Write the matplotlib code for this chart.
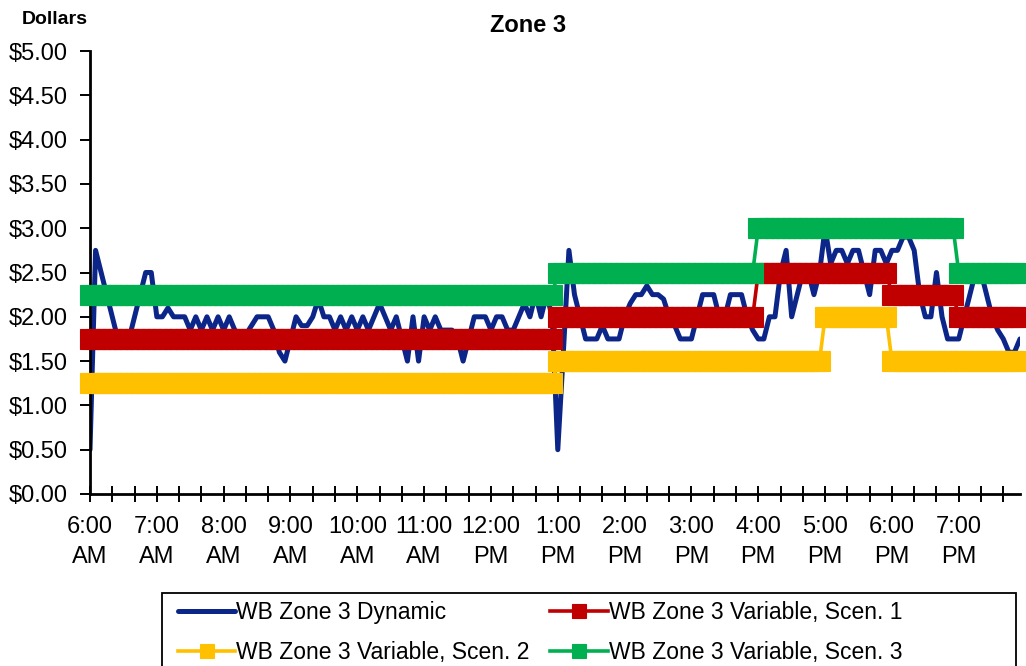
#%% 1 imports and settings
import matplotlib
matplotlib.use("Agg")
import matplotlib.pyplot as plt
from matplotlib.ticker import FixedLocator, FuncFormatter
from matplotlib.patches import Rectangle
import numpy as np

plt.rcParams['font.family'] = ['Liberation Sans', 'DejaVu Sans']

# hour labels on the category axis (5-minute intervals, 6:00 AM - 7:55 PM)
hour_labels = ["6:00\nAM", "7:00\nAM", "8:00\nAM", "9:00\nAM", "10:00\nAM",
               "11:00\nAM", "12:00\nPM", "1:00\nPM", "2:00\nPM", "3:00\nPM",
               "4:00\nPM", "5:00\nPM", "6:00\nPM", "7:00\nPM"]

# dynamic price, one row per hour (12 five-minute values)
dyn_06 = [0.50, 2.75, 2.50, 2.25, 2.00, 1.75, 1.75, 1.75, 2.00, 2.25, 2.50, 2.50]
dyn_07 = [2.00, 2.00, 2.10, 2.00, 2.00, 2.00, 1.85, 2.00, 1.85, 2.00, 1.85, 2.00]
dyn_08 = [1.85, 2.00, 1.85, 1.80, 1.80, 1.90, 2.00, 2.00, 2.00, 1.85, 1.60, 1.50]
dyn_09 = [1.75, 2.00, 1.90, 1.90, 2.00, 2.20, 2.00, 2.00, 1.85, 2.00, 1.85, 2.00]
dyn_10 = [1.85, 2.00, 1.85, 2.00, 2.15, 2.00, 1.85, 2.00, 1.75, 1.50, 2.00, 1.50]
dyn_11 = [2.00, 1.85, 2.00, 1.85, 1.85, 1.85, 1.75, 1.50, 1.75, 2.00, 2.00, 2.00]
dyn_12 = [1.85, 2.00, 2.00, 1.85, 1.85, 2.00, 2.15, 2.00, 2.25, 2.00, 2.25, 2.00]
dyn_13 = [0.50, 1.60, 2.75, 2.25, 2.00, 1.75, 1.75, 1.75, 1.90, 1.75, 1.75, 1.75]
dyn_14 = [2.00, 2.15, 2.25, 2.25, 2.35, 2.25, 2.25, 2.20, 2.00, 1.90, 1.75, 1.75]
dyn_15 = [1.75, 2.00, 2.25, 2.25, 2.25, 2.00, 2.00, 2.25, 2.25, 2.25, 2.00, 1.85]
dyn_16 = [1.75, 1.75, 2.00, 2.00, 2.50, 2.75, 2.00, 2.25, 2.50, 2.50, 2.25, 2.50]
dyn_17 = [3.00, 2.60, 2.75, 2.75, 2.60, 2.75, 2.75, 2.50, 2.25, 2.75, 2.75, 2.60]
dyn_18 = [2.75, 2.75, 2.90, 2.90, 2.75, 2.25, 2.00, 2.00, 2.50, 2.00, 1.75, 1.75]
dyn_19 = [1.75, 2.00, 2.25, 2.50, 2.50, 2.25, 2.00, 1.85, 1.75, 1.60, 1.60, 1.75]

dynamic = np.array(dyn_06 + dyn_07 + dyn_08 + dyn_09 + dyn_10 + dyn_11 + dyn_12 +
                   dyn_13 + dyn_14 + dyn_15 + dyn_16 + dyn_17 + dyn_18 + dyn_19)

# variable prices, one value per hour (6 AM ... 7 PM)
scen1_hourly = [1.75, 1.75, 1.75, 1.75, 1.75, 1.75, 1.75,
                2.00, 2.00, 2.00, 2.50, 2.50, 2.25, 2.00]
scen2_hourly = [1.25, 1.25, 1.25, 1.25, 1.25, 1.25, 1.25,
                1.50, 1.50, 1.50, 1.50, 2.00, 1.50, 1.50]
scen3_hourly = [2.25, 2.25, 2.25, 2.25, 2.25, 2.25, 2.25,
                2.50, 2.50, 2.50, 3.00, 3.00, 3.00, 2.50]

series_names = ["WB Zone 3 Dynamic", "WB Zone 3 Variable, Scen. 1",
                "WB Zone 3 Variable, Scen. 2", "WB Zone 3 Variable, Scen. 3"]

# each hourly price holds for all twelve 5-minute intervals of that hour
per_hour = 12
scen1 = np.repeat(scen1_hourly, per_hour)
scen2 = np.repeat(scen2_hourly, per_hour)
scen3 = np.repeat(scen3_hourly, per_hour)
x = np.arange(len(dynamic))

# colours
blueColor   = '#0c2588'
redColor    = '#c00000'
yellowColor = '#ffc000'
greenColor  = '#00b050'

#%% 2 figure and lines
fig = plt.figure(figsize=(10.26, 6.66), dpi=100)
ax = fig.add_axes([90/1026, 1 - 494/666, 930/1026, 443/666])

h_dyn, = ax.plot(x, dynamic, color=blueColor, lw=3.6, solid_joinstyle='round',
                 solid_capstyle='round', zorder=2, label=series_names[0])

handles = [h_dyn]
for vals, col, z, name in [(scen1, redColor, 3, series_names[1]),
                           (scen2, yellowColor, 4, series_names[2]),
                           (scen3, greenColor, 5, series_names[3])]:
    h, = ax.plot(x, vals, color=col, lw=2.6, marker='s', markersize=14,
                 markeredgewidth=0.8, markeredgecolor=col, markerfacecolor=col,
                 zorder=z, clip_on=False, label=name)
    handles.append(h)

#%% 3 axes styling
ax.set_xlim(0, len(dynamic) - 1)
ax.set_ylim(0, 5)

ax.xaxis.set_major_locator(FixedLocator(np.arange(0, len(dynamic), per_hour)))
ax.xaxis.set_minor_locator(FixedLocator(np.arange(0, len(dynamic), 4)))
ax.set_xticklabels(hour_labels, fontsize=17, linespacing=1.5)
ax.set_yticks(np.arange(0, 5.01, 0.5))
ax.yaxis.set_major_formatter(FuncFormatter(lambda v, p: f"${v:.2f}"))
ax.tick_params(axis='y', labelsize=17, direction='out', length=7, width=1.4, pad=9)
ax.tick_params(axis='x', which='both', direction='inout', length=11, width=1.4, pad=10)

ax.spines[['top', 'right']].set_visible(False)
ax.spines[['left', 'bottom']].set_linewidth(2)

fig.text(528/1026, 1 - 25/666, "Zone 3", fontsize=17, fontweight='bold',
         ha='center', va='center')
fig.text(55/1026, 1 - 20/666, "Dollars", fontsize=14, fontweight='bold',
         ha='center', va='center')

#%% 4 legend (frame drawn separately, runs off the bottom edge)
frame = Rectangle((162/1026, 1 - 680/666), (1016 - 162)/1026, 87/666,
                  transform=fig.transFigure, facecolor='white',
                  edgecolor='black', lw=1.3, clip_on=False, zorder=5)
fig.add_artist(frame)

leg_order = [0, 2, 1, 3]
leg = fig.legend([handles[i] for i in leg_order],
                 [series_names[i] for i in leg_order],
                 loc='upper left', bbox_to_anchor=(178/1026, 1 - 601/666),
                 ncol=2, fontsize=16.5, frameon=False,
                 handlelength=2.5, handletextpad=0.05,
                 columnspacing=0.9, labelspacing=0.75, markerscale=0.75,
                 borderpad=0, borderaxespad=0)
leg.set_zorder(6)

fig.savefig("out.png", dpi=100)
